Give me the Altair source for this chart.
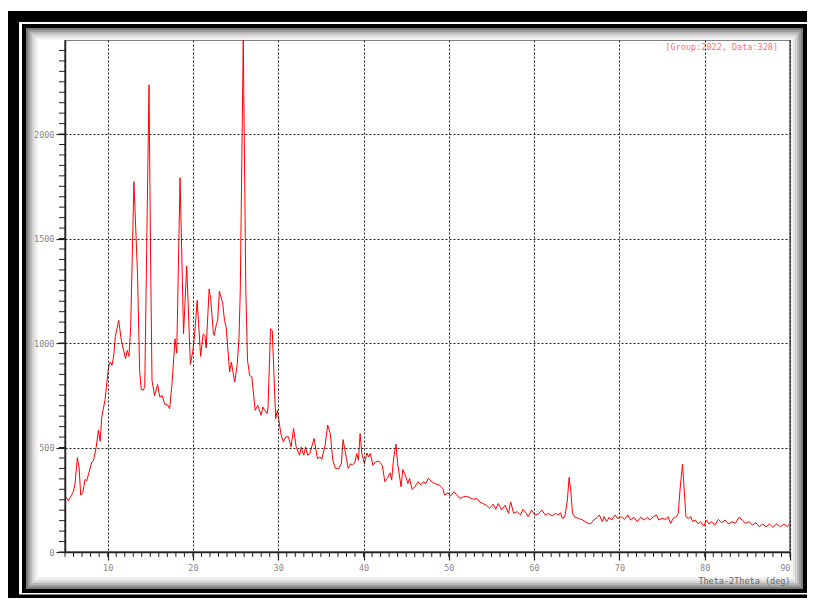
import altair as alt
import pandas as pd

# ---- data ----
two_theta = [
    5.0, 5.1, 5.4, 5.98, 6.18, 6.45, 6.65, 6.84, 7.08, 7.35, 7.55, 7.94, 8.14, 8.33, 8.65, 8.92,
    9.12, 9.31, 9.7, 10.1, 10.3, 10.5, 10.7, 10.9, 11.3, 11.6, 12.1, 12.3, 12.5, 12.7, 13.08, 13.5,
    13.75, 13.94, 14.2, 14.35, 14.85, 15.05, 15.2, 15.5, 15.86, 16.1, 16.4, 16.7, 17.04, 17.27, 17.55,
    17.9, 18.1, 18.49, 18.76, 18.9, 19.27, 19.7, 20.0, 20.2, 20.5, 20.9, 21.2, 21.4, 21.55, 21.9, 22.1,
    22.4, 22.5, 22.75, 22.9, 23.1, 23.5, 23.7, 23.9, 24.3, 24.5, 24.9, 25.2, 25.4, 25.55, 25.9, 26.2,
    26.4, 26.65, 26.9, 27.3, 27.6, 28.0, 28.2, 28.4, 28.7, 28.8, 29.1, 29.3, 29.7, 29.9, 30.3, 30.6,
    30.9, 31.2, 31.5, 31.8, 32.1, 32.5, 32.7, 33.0, 33.2, 33.45, 33.7, 34.2, 34.6, 34.9, 35.1, 35.5,
    35.8, 36.1, 36.4, 36.7, 37.1, 37.4, 37.6, 38.0, 38.2, 38.5, 38.7, 39.0, 39.2, 39.4, 39.6, 39.8,
    40.1, 40.4, 40.6, 40.8, 41.1, 41.4, 41.8, 42.2, 42.5, 42.8, 43.1, 43.3, 43.5, 43.8, 44.0, 44.4,
    44.6, 44.9, 45.2, 45.4, 45.7, 46.0, 46.4, 46.7, 47.0, 47.3, 47.6, 48.0, 48.35, 48.9, 49.3, 49.5,
    49.9, 50.2, 50.6, 50.9, 51.3, 51.7, 52.1, 52.5, 52.9, 53.3, 53.6, 54.0, 54.4, 54.8, 55.2, 55.5,
    55.8, 56.2, 56.6, 57.0, 57.25, 57.6, 58.0, 58.4, 58.7, 59.1, 59.3, 59.7, 60.1, 60.5, 60.9, 61.3,
    61.7, 62.1, 62.5, 62.9, 63.1, 63.3, 63.6, 63.9, 64.1, 64.3, 64.5, 64.8, 65.2, 65.7, 66.2, 66.6,
    67.0, 67.4, 67.65, 68.0, 68.2, 68.5, 68.8, 69.1, 69.5, 69.8, 70.2, 70.6, 71.0, 71.3, 71.7, 72.1,
    72.5, 72.9, 73.3, 73.6, 74.0, 74.35, 74.6, 75.0, 75.4, 75.7, 76.0, 76.3, 76.7, 76.9, 77.1, 77.4,
    77.5, 77.8, 78.1, 78.35, 78.6, 78.9, 79.25, 79.5, 79.9, 80.2, 80.5, 80.8, 81.2, 81.6, 82.0, 82.4,
    82.8, 83.2, 83.6, 84.0, 84.4, 84.8, 85.2, 85.6, 86.0, 86.4, 86.8, 87.2, 87.6, 88.0, 88.4, 88.9,
    89.3, 89.7, 90.0,
]
intensity = [
    265, 264, 245, 288, 328, 452, 407, 272, 283, 347, 341, 400, 431, 436, 500, 583,
    530, 646, 729, 885, 909, 893, 933, 1032, 1108, 1013, 925, 965, 936, 1076, 1772, 1331,
    869, 777, 775, 793, 2235, 1350, 821, 748, 801, 742, 748, 707, 703, 686, 806,
    1020, 952, 1791, 1299, 1044, 1369, 898, 965, 1044, 1204, 936, 1044, 1036, 976, 1259, 1204,
    1044, 1036, 1089, 1108, 1248, 1188, 1108, 1076, 861, 909, 813, 901, 1027, 1250, 2450, 1250,
    917, 845, 838, 678, 702, 654, 694, 678, 662, 689, 1068, 1060, 638, 678, 567, 527,
    551, 551, 503, 591, 503, 463, 503, 463, 503, 463, 471, 543, 447, 455, 443, 511,
    607, 567, 439, 400, 400, 423, 538, 447, 400, 423, 415, 431, 471, 439, 567, 471,
    423, 474, 455, 471, 415, 431, 435, 415, 336, 352, 379, 344, 439, 516, 423, 312,
    395, 368, 328, 352, 299, 312, 336, 320, 336, 328, 352, 336, 328, 320, 304, 272,
    283, 267, 288, 275, 256, 264, 267, 259, 252, 256, 240, 232, 224, 209, 229, 204,
    232, 201, 224, 185, 240, 185, 193, 177, 204, 185, 169, 201, 177, 182, 201, 177,
    185, 172, 185, 177, 188, 161, 169, 248, 357, 296, 185, 166, 161, 153, 140, 134,
    153, 166, 177, 145, 169, 145, 166, 153, 177, 161, 169, 156, 177, 153, 166, 145,
    166, 153, 166, 153, 169, 177, 153, 161, 156, 169, 137, 161, 169, 185, 296, 420,
    360, 169, 161, 169, 145, 153, 134, 145, 124, 153, 134, 145, 129, 156, 140, 153,
    134, 145, 137, 166, 153, 137, 145, 129, 140, 121, 134, 121, 134, 118, 134, 121,
    134, 121, 137,
]
x_major = [10, 20, 30, 40, 50, 60, 70, 80, 90]
x_minor = list(range(5, 91))
y_major = [0, 500, 1000, 1500, 2000]
y_minor = list(range(0, 2450, 50))
note_text = ["[Group:2022, Data:328]"]
x_title = "Theta-2Theta (deg)"

W, H = 725, 512
FONT = "DejaVu Sans Mono"

df = pd.DataFrame({"two_theta": two_theta, "intensity": intensity})
xscale = alt.Scale(domain=[5, 90], nice=False, zero=False)
yscale = alt.Scale(domain=[0, 2450], nice=False)

common = dict(
    labelFont=FONT,
    labelFontSize=8.5,
    labelColor="#888888",
    tickColor="#222222",
    tickWidth=1.2,
    domainColor="#222222",
    domainWidth=1.5,
    grid=True,
    gridColor="#222222",
    gridDash=[2, 2],
    gridWidth=1,
    zindex=1,
)
xaxis = alt.Axis(
    values=x_major,
    format="d",
    title=x_title,
    titleAnchor="end",
    titleFont=FONT,
    titleFontSize=8.5,
    titleFontWeight="normal",
    titleColor="#666666",
    titlePadding=5,
    labelPadding=3,
    tickSize=8,
    **common,
)
yaxis = alt.Axis(
    values=y_major,
    format="d",
    title=None,
    labelPadding=2,
    tickSize=9,
    **common,
)


def frame(left, top, right, bottom, color, sw):
    return alt.Chart(alt.Data(values=[{"k": 1}])).mark_rect(
        fillOpacity=0, stroke=color, strokeWidth=sw
    ).encode(
        x=alt.value(left), x2=alt.value(right), y=alt.value(top), y2=alt.value(bottom)
    )


# decorative window frame (plot-area pixel coordinates)
decor = [
    frame(-51.5, -23.5, 760, 560, "#000000", 11),
    frame(-41, -14, 740, 551, "#000000", 4),
]
shade = ["#7a7a7a", "#9c9c9c", "#b9b9b9", "#d2d2d2", "#e6e6e6", "#f3f3f3"]
for i, c in enumerate(shade):
    d = 1 + 2 * i
    decor.append(frame(-39 + d, -12 + d, 738 - d, 549 - d, c, 2))

line = alt.Chart(df).mark_line(color="#ff0000", strokeWidth=1.0, clip=True).encode(
    x=alt.X("two_theta:Q", scale=xscale, axis=xaxis),
    y=alt.Y("intensity:Q", scale=yscale, axis=yaxis),
)

yminor = alt.Chart(pd.DataFrame({"intensity": y_minor})).mark_rule(
    color="#222222", strokeWidth=1
).encode(
    y=alt.Y("intensity:Q", scale=yscale, axis=yaxis), x=alt.value(-6), x2=alt.value(0)
)
xminor = alt.Chart(pd.DataFrame({"two_theta": x_minor})).mark_rule(
    color="#222222", strokeWidth=1
).encode(
    x=alt.X("two_theta:Q", scale=xscale, axis=xaxis), y=alt.value(H), y2=alt.value(H + 5)
)

note = alt.Chart(
    pd.DataFrame({"t": note_text, "two_theta": [88.6], "intensity": [2417]})
).mark_text(
    font=FONT, fontSize=8.5, color="#ff7070", align="right", baseline="middle"
).encode(
    x=alt.X("two_theta:Q", scale=xscale, axis=xaxis),
    y=alt.Y("intensity:Q", scale=yscale, axis=yaxis),
    text="t:N",
)

chart = alt.layer(*decor, line, yminor, xminor, note).properties(
    width=W,
    height=H,
    autosize=alt.AutoSizeParams(type="none"),
    padding={"left": 57, "top": 32, "right": 17, "bottom": 46},
    background="white",
).configure_view(stroke="#555555", strokeWidth=1.5)

chart.save("out.html", embed_options={"renderer": "svg", "actions": False})
